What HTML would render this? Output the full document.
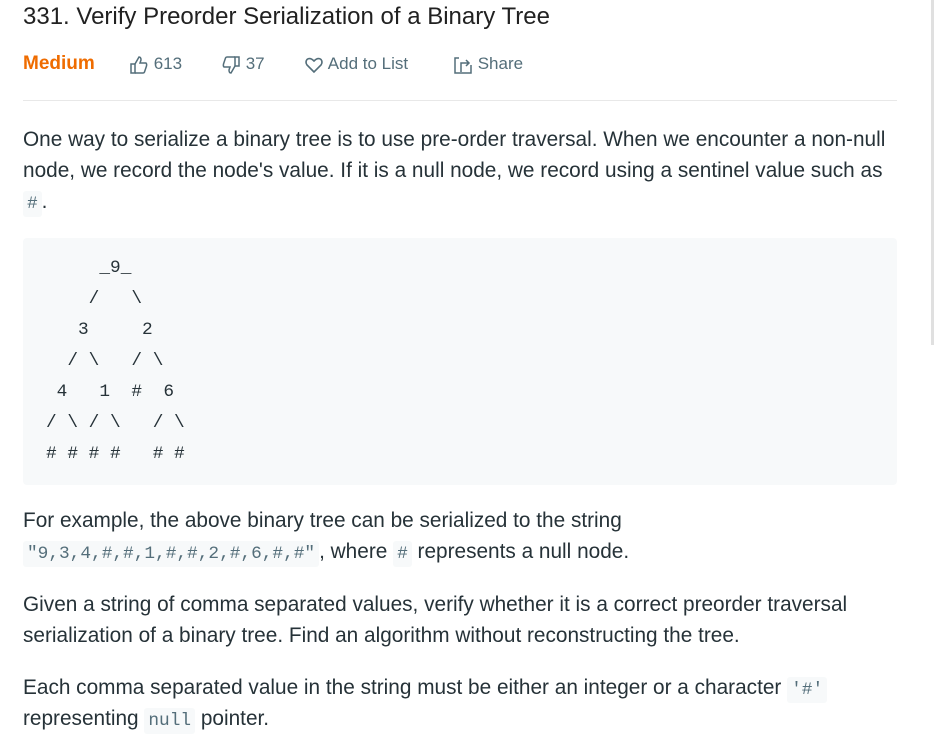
<!DOCTYPE html>
<html><head><meta charset="utf-8"><style>
html,body{margin:0;padding:0;background:#fff;width:934px;height:746px;overflow:hidden}
body{font-family:"Liberation Sans",sans-serif;color:#263238;position:relative}
.a{position:absolute;white-space:nowrap}
.t{left:23px;top:3px;font-size:24px;color:#212121}
.meta{top:52px;font-size:17px;color:#546e7a;line-height:24px}
.p{left:23px;font-size:20.8px;line-height:31px;color:#263238}
code{font-family:"Liberation Mono",monospace;font-size:17.8px;line-height:1;background:#f7f9fa;border-radius:3px;padding:3px 4px;color:#546e7a}
pre{position:absolute;left:23px;top:238px;width:874px;height:247px;margin:0;background:#f7f9fa;border-radius:4px;font-family:"Liberation Mono",monospace;font-size:17.8px;line-height:31px;color:#263238;padding:15px 0 0 23px;box-sizing:border-box}
svg{vertical-align:middle}
</style></head><body>
<div class="a t">331. Verify Preorder Serialization of a Binary Tree</div>
<div class="a meta" style="left:23px;color:#ef6c00;font-weight:bold;font-size:19px">Medium</div>
<div class="a meta" style="left:129px"><svg width="20" height="20" viewBox="0 0 20 20" fill="none" stroke="#546e7a" stroke-width="1.5"><rect x="2" y="9" width="4" height="9"/><path d="M6 9 L10 2 Q12 2 12 5 L11 8 H17 Q18 9 17.5 11 L15.5 17 Q15 18 14 18 H6"/></svg> 613</div>
<div class="a meta" style="left:221px"><svg width="20" height="20" viewBox="0 0 20 20" fill="none" stroke="#546e7a" stroke-width="1.5"><rect x="14" y="2" width="4" height="9"/><path d="M14 11 L10 18 Q8 18 8 15 L9 12 H3 Q2 11 2.5 9 L4.5 3 Q5 2 6 2 H14"/></svg> 37</div>
<div class="a meta" style="left:304px"><svg width="20" height="20" viewBox="0 0 20 20" fill="none" stroke="#546e7a" stroke-width="1.6"><path d="M10 17 L3 10 Q1 7 3 4.5 Q6 2 10 6 Q14 2 17 4.5 Q19 7 17 10 Z"/></svg> Add to List</div>
<div class="a meta" style="left:453px"><svg width="20" height="20" viewBox="0 0 20 20" fill="none" stroke="#546e7a" stroke-width="1.5"><path d="M6 3 H2 V18 H18 V10"/><path d="M8 17 V8 H16 M13 5 L16 8 L13 11"/></svg> Share</div>
<div class="a" style="left:23px;top:100px;width:874px;height:1px;background:#e8e8e8"></div>
<div class="a p" style="top:124px">One way to serialize a binary tree is to use pre-order traversal. When we encounter a non-null<br>node, we record the node's value. If it is a null node, we record using a sentinel value such as<br><code>#</code>.</div>
<pre>     _9_
    /   \
   3     2
  / \   / \
 4   1  #  6
/ \ / \   / \
# # # #   # #</pre>
<div class="a p" style="top:505px">For example, the above binary tree can be serialized to the string<br><code>"9,3,4,#,#,1,#,#,2,#,6,#,#"</code>, where <code>#</code> represents a null node.</div>
<div class="a p" style="top:589px">Given a string of comma separated values, verify whether it is a correct preorder traversal<br>serialization of a binary tree. Find an algorithm without reconstructing the tree.</div>
<div class="a p" style="top:672px">Each comma separated value in the string must be either an integer or a character <code>'#'</code><br>representing <code>null</code> pointer.</div>
<div class="a" style="left:931px;top:0;width:3px;height:345px;background:#e0e0e0"></div>
</body></html>
